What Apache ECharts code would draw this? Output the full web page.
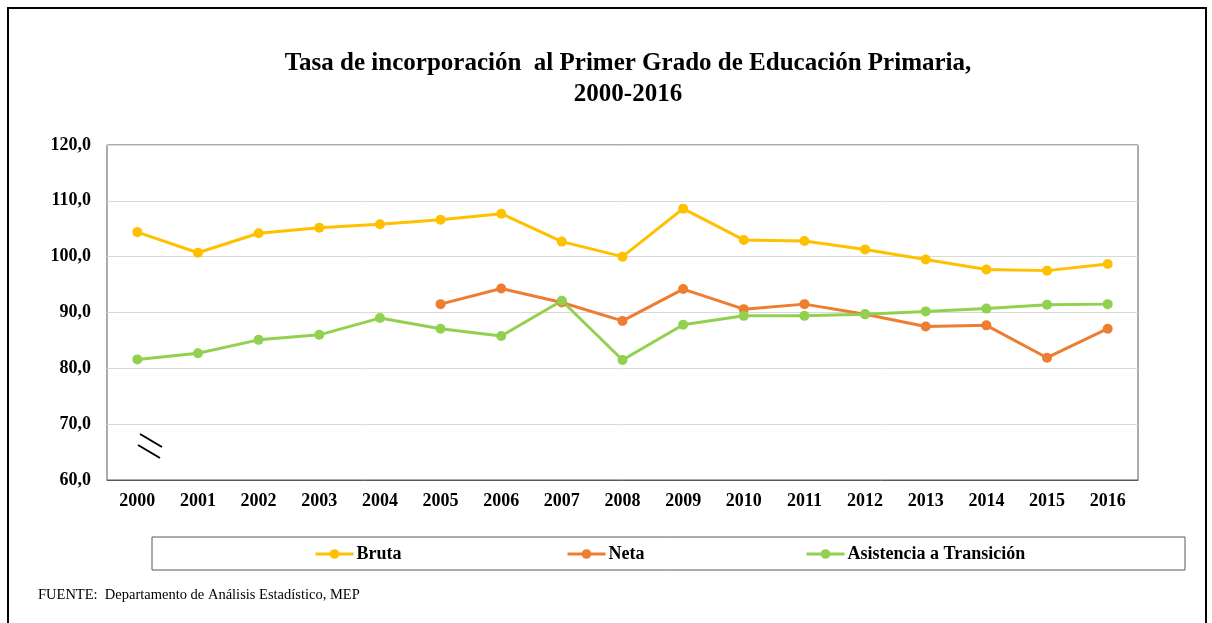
<!DOCTYPE html>
<html>
<head>
<meta charset="utf-8">
<script src="https://cdn.jsdelivr.net/npm/echarts@6/dist/echarts.min.js"></script>
<style>
	html, body { margin: 0; padding: 0; background: #fff; }
	#chart { width: 1212px; height: 623px; }
</style>
</head>
<body>
<div id="chart"></div>
<script>
let years = ['2000', '2001', '2002', '2003', '2004', '2005', '2006', '2007', '2008',
	'2009', '2010', '2011', '2012', '2013', '2014', '2015', '2016']
let bruta = [104.4, 100.7, 104.2, 105.2, 105.8, 106.6, 107.7, 102.7, 100.0,
	108.6, 103.0, 102.8, 101.3, 99.5, 97.7, 97.5, 98.7]
let neta = [null, null, null, null, null, 91.5, 94.3, 91.8, 88.5,
	94.2, 90.6, 91.5, 89.7, 87.5, 87.7, 81.9, 87.1]
let transicion = [81.6, 82.7, 85.1, 86.0, 89.0, 87.1, 85.8, 92.1, 81.5,
	87.8, 89.4, 89.4, 89.7, 90.2, 90.7, 91.4, 91.5]

let serif = '"Liberation Serif", "DejaVu Serif", serif'

let mkSeries = (name, data, color) => ({
	name: name,
	type: 'line',
	data: data,
	symbol: 'circle',
	symbolSize: 10,
	lineStyle: { width: 3, color: color },
	itemStyle: { color: color },
	connectNulls: false
})

// una leyenda por serie, para repartirlas dentro del recuadro
let mkLegend = (name, left) => ({
	data: [name],
	left: left,
	top: 545,
	itemWidth: 38,
	itemHeight: 12,
	itemGap: 0,
	padding: 0,
	lineStyle: { width: 3 },
	textStyle: { fontFamily: serif, fontWeight: 'bold', fontSize: 18, color: '#000', padding: [0, 0, 0, -2] }
})

let chart = echarts.init(document.getElementById('chart'))
chart.setOption({
	animation: false,
	title: {
		text: 'Tasa de incorporación  al Primer Grado de Educación Primaria,\n2000-2016',
		left: 623,
		top: 43,
		textAlign: 'center',
		textStyle: { fontFamily: serif, fontWeight: 'bold', fontSize: 25, lineHeight: 31, color: '#000', align: 'center' }
	},
	legend: [
		mkLegend('Bruta', 314),
		mkLegend('Neta', 566),
		mkLegend('Asistencia a Transición', 805)
	],
	grid: {
		left: 107, right: 74, top: 145, bottom: 143,
		show: true, borderColor: '#595959', borderWidth: 1
	},
	xAxis: {
		type: 'category',
		data: years,
		boundaryGap: true,
		axisLine: { lineStyle: { color: '#595959', width: 1 } },
		axisTick: { alignWithLabel: true, length: 5, lineStyle: { color: '#595959' } },
		axisLabel: { fontFamily: serif, fontWeight: 'bold', fontSize: 18, color: '#000', margin: 12 }
	},
	yAxis: {
		type: 'value',
		min: 60, max: 120, interval: 10,
		axisLine: { show: false },
		axisTick: { show: false },
		splitLine: { lineStyle: { color: '#d9d9d9', width: 1 } },
		axisLabel: {
			fontFamily: serif, fontWeight: 'bold', fontSize: 18, color: '#000', margin: 16,
			formatter: v => v.toFixed(1).replace('.', ',')
		}
	},
	series: [
		mkSeries('Bruta', bruta, '#FFC000'),
		mkSeries('Neta', neta, '#ED7D31'),
		mkSeries('Asistencia a Transición', transicion, '#92D050')
	],
	graphic: [
		{ type: 'rect', shape: { x: 8, y: 8, width: 1198, height: 640 },
			style: { fill: null, stroke: '#000', lineWidth: 2 }, silent: true },
		{ type: 'rect', shape: { x: 152, y: 537, width: 1033, height: 33 },
			style: { fill: null, stroke: '#595959', lineWidth: 1 }, silent: true },
		{ type: 'line', shape: { x1: 140, y1: 434, x2: 162, y2: 447 },
			style: { stroke: '#000', lineWidth: 2 } },
		{ type: 'line', shape: { x1: 138, y1: 445, x2: 160, y2: 458 },
			style: { stroke: '#000', lineWidth: 2 } },
		{ type: 'text', left: 38, top: 588,
			style: { text: 'FUENTE:  Departamento de Análisis Estadístico, MEP',
				font: '14.5px ' + serif, fill: '#000' } }
	]
})
</script>
</body>
</html>
